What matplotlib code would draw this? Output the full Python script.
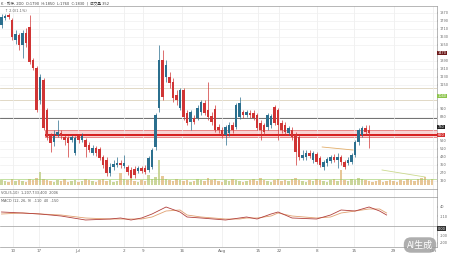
import numpy as np
import matplotlib.pyplot as plt
from matplotlib.patches import Rectangle

plt.rcParams['font.family'] = ['DejaVu Sans', 'Noto Sans CJK SC']

W, H = 450, 257

# candles (price units)
opens = [175, 182, 185, 180, 160, 165, 155, 167, 173, 140, 132, 100, 120, 90, 65, 58, 65, 67, 63, 62,
         60, 47, 64, 60, 60, 55, 47, 52, 51, 43, 40, 27, 33, 35, 37, 34, 33, 30, 31, 29,
         32, 32, 30, 33, 53, 92, 140, 123, 123, 118, 105, 92, 110, 87, 78, 82, 82, 88, 97, 90,
         84, 91, 73, 70, 65, 67, 75, 73, 83, 88, 85, 87, 87, 85, 77, 75, 73, 75, 93, 90,
         77, 75, 67, 70, 65, 63, 42, 43, 47, 40, 46, 42, 33, 37, 39, 43, 40, 43, 38, 37,
         38, 45, 58, 65, 72, 70]
closes = [183, 184, 183, 163, 166, 155, 167, 157, 138, 132, 90, 123, 72, 63, 57, 64, 68, 64, 60, 57,
          63, 62, 60, 64, 53, 50, 52, 47, 42, 35, 27, 33, 36, 37, 35, 37, 28, 22, 25, 32,
          29, 28, 42, 50, 85, 140, 103, 135, 117, 102, 100, 110, 83, 77, 88, 78, 92, 98, 87, 83,
          78, 70, 70, 65, 73, 75, 70, 95, 97, 85, 88, 85, 82, 72, 70, 68, 85, 84, 77, 75,
          70, 68, 72, 63, 48, 43, 45, 47, 44, 47, 38, 35, 38, 41, 43, 40, 43, 38, 33, 40,
          45, 58, 70, 72, 68, 67]
highs = [186, 186, 187, 182, 170, 167, 170, 172, 185, 142, 134, 126, 122, 92, 67, 70, 80, 70, 65, 64,
         65, 64, 66, 67, 62, 58, 55, 54, 53, 45, 43, 37, 40, 43, 40, 45, 35, 33, 34, 34,
         34, 35, 44, 52, 87, 155, 150, 140, 128, 122, 110, 112, 112, 90, 90, 85, 95, 100, 100, 118,
         88, 95, 76, 73, 75, 78, 78, 97, 103, 90, 90, 90, 90, 87, 80, 77, 87, 86, 95, 92,
         80, 78, 74, 73, 68, 65, 50, 50, 50, 49, 48, 44, 40, 43, 45, 46, 47, 45, 40, 43,
         47, 60, 72, 74, 75, 75]
lows = [172, 180, 181, 160, 156, 150, 142, 153, 136, 130, 88, 96, 70, 60, 48, 54, 63, 61, 55, 43,
        58, 45, 57, 58, 43, 48, 45, 44, 40, 32, 24, 24, 30, 33, 32, 32, 25, 20, 22, 27,
        27, 26, 28, 31, 50, 88, 100, 118, 112, 98, 95, 90, 80, 75, 70, 76, 80, 85, 85, 80,
        75, 68, 67, 62, 55, 64, 67, 71, 81, 82, 83, 82, 80, 70, 60, 65, 70, 72, 75, 60,
        67, 65, 65, 60, 35, 40, 40, 40, 42, 37, 36, 33, 30, 34, 37, 38, 32, 35, 31, 35,
        36, 43, 55, 63, 66, 52]
volume = [5, 4, 3, 6, 4, 5, 4, 3, 6, 5, 7, 13, 6, 5, 4, 3, 5, 4, 6, 3,
          4, 5, 3, 4, 6, 5, 4, 3, 5, 6, 4, 5, 3, 4, 12, 6, 5, 7, 4, 3,
          5, 4, 10, 6, 8, 25, 9, 6, 5, 4, 6, 5, 4, 5, 3, 4, 6, 5, 4, 7,
          5, 6, 4, 3, 5, 4, 6, 5, 4, 3, 4, 5, 6, 4, 7, 5, 4, 3, 5, 6,
          4, 5, 4, 6, 7, 5, 4, 3, 5, 4, 6, 5, 4, 3, 5, 6, 4, 15, 5, 4,
          6, 5, 7, 6, 5, 4, 3, 4, 5, 3, 4, 5, 4, 3, 5, 4, 6, 5, 4, 6,
          7, 8, 5, 6]

# indicator pane
ind_idx = [0, 6, 11, 17, 24, 31, 34, 37, 40, 43, 47, 51, 53, 57, 64, 68, 70, 73, 77, 79,
           83, 90, 94, 97, 101, 105, 108, 110]
ind_fast = [14, 13, 12, 10, 6, 7, 8, 6, 8, 12, 19, 14, 9, 8, 6, 8, 9, 7, 12, 14,
            8, 7, 11, 16, 15, 19, 15, 11]
ind_slow = [12, 13, 12, 11, 8, 7, 7, 7, 7, 9, 15, 16, 11, 9, 7, 7, 8, 8, 10, 13,
            10, 8, 9, 13, 15, 17, 17, 13]

xtick_pos = [3.3, 10.7, 21.9, 35, 40.4, 51.6, 63, 73.3, 79.3, 90, 100.7, 112, 123.3]
xtick_labels = ['10', '17', 'Jul', '2', '9', '16', 'Aug', '15', '22', '8', '15', '29', 'Oct']

# drawn levels
resist = 65.5
band_lo, band_hi = 63, 70
level_gray = 82
levels_tan = [100, 112]
trend_a = ([91.6, 100.4], [53, 50])
trend_b = ([108.7, 121], [30, 23])
axis_tags = [(147, '#6d1b1b'), (104, '#8bc34a'), (73, '#222222'), (65, '#d32f2f')]

UP, DOWN = '#2b6f8e', '#d03535'


def box(x0, y0, x1, y1):
    return [x0 / W, 1 - y1 / H, (x1 - x0) / W, (y1 - y0) / H]


def style(ax):
    ax.set_xlim(-0.43, 124.4)
    for s in ['left', 'bottom']:
        ax.spines[s].set_visible(False)
    for s in ['top', 'right']:
        ax.spines[s].set_color('#9a9a9a')
        ax.spines[s].set_linewidth(0.5)
    ax.yaxis.tick_right()
    ax.tick_params(axis='y', labelsize=2.5, colors='#666666', length=1, width=0.3, pad=0.8)
    ax.set_xticks(xtick_pos)
    ax.tick_params(axis='x', length=0, labelbottom=False)
    ax.grid(axis='x', color='#ececec', lw=0.5)


def main():
    fig = plt.figure(figsize=(4.5, 2.57), dpi=100)
    ax = fig.add_axes(box(0, 6, 437, 189))
    p2 = fig.add_axes(box(0, 189, 437, 197))
    ind = fig.add_axes(box(0, 197, 437, 226))
    p4 = fig.add_axes(box(0, 226, 437, 247))

    # volume (twin first, then restore right-side price ticks)
    vax = ax.twinx()
    vax.set_ylim(-4, 179)
    vax.set_axis_off()
    vax.set_xlim(-0.43, 124.4)

    for a in (ax, p2, ind, p4):
        style(a)

    # price pane
    ax.set_ylim(11, 194)
    tag_prices = [p for p, _ in axis_tags]
    ticks = [t for t in np.arange(19, 190, 8) if min(abs(t - p) for p in tag_prices) > 5]
    ax.set_yticks(ticks)
    ax.set_yticklabels([f'{t * 10:.0f}' for t in ticks])
    ax.tick_params(axis='y', left=False, labelleft=False, right=True, labelright=True)
    ax.grid(axis='y', color='#f0f0f0', lw=0.5)

    ax.add_patch(Rectangle((12.4, band_lo), 124.4 - 12.4, band_hi - band_lo,
                           fc='#f9d4d4', ec='#e06060', lw=0.5, zorder=1))
    ax.hlines(resist, 12.4, 124.4, color='#d61f1f', lw=1.4, zorder=2)
    ax.axhline(level_gray, color='#5a5a5a', lw=0.6, zorder=1)
    for lv in levels_tan:
        ax.axhline(lv, color='#dcd2bc', lw=0.6, zorder=1)
    ax.plot(*trend_a, color='#e2ae6a', lw=0.6)
    ax.plot(*trend_b, color='#cbd98f', lw=0.6)

    x = np.arange(len(opens))
    o, c = np.array(opens), np.array(closes)
    cols = [UP if cc >= oo else DOWN for oo, cc in zip(o, c)]
    ax.vlines(x, lows, highs, colors=cols, lw=0.5, zorder=3)
    body = np.maximum(np.abs(c - o), 0.8)
    ax.bar(x, body, bottom=np.minimum(o, c), width=0.72, color=cols, lw=0, zorder=4)

    for price, col in axis_tags:
        ax.text(1.002, price, f'{price * 10:.0f}', transform=ax.get_yaxis_transform(),
                fontsize=2.5, color='white', va='center', ha='left',
                bbox=dict(fc=col, ec='none', pad=0.3), clip_on=False, zorder=6)

    vx = np.arange(len(volume))
    vcols = []
    for i in vx:
        if i < len(opens):
            vcols.append('#c2cf8a' if closes[i] >= opens[i] else '#e3bd86')
        else:
            vcols.append('#e3bd86')
    vax.bar(vx, volume, width=0.7, color=vcols, alpha=0.85, lw=0)
    vax.axhline(6, color='#9ccc65', lw=0.6, alpha=0.7)

    # small pane
    p2.set_ylim(0, 1)
    p2.set_yticks([])
    p2.text(0.002, 0.5, 'VOL(5,10)  1,207,733.400  2006', transform=p2.transAxes,
            fontsize=2.5, color='#555555', va='center')

    # indicator pane
    ind.set_ylim(0, 29)
    ind.set_yticks([10, 19])
    ind.set_yticklabels(['-110', '40'])
    ind.plot(ind_idx, ind_slow, color='#e0a070', lw=0.6)
    ind.plot(ind_idx, ind_fast, color='#b2403c', lw=0.6)
    ind.text(0.002, 0.86, 'MACD (12, 26, 9)  -110  40  -150', transform=ind.transAxes,
             fontsize=2.5, color='#555555', va='center')

    # bottom pane + time axis
    p4.set_ylim(0, 1)
    p4.set_yticks([0.2, 0.55])
    p4.set_yticklabels(['-200', '-100'])
    p4.spines['bottom'].set_visible(True)
    p4.spines['bottom'].set_color('#9a9a9a')
    p4.spines['bottom'].set_linewidth(0.5)
    p4.set_xticklabels(xtick_labels)
    p4.tick_params(axis='x', labelbottom=True, labelsize=3, colors='#666666', pad=1.5)
    p4.text(1.002, 0.88, '0.00', transform=p4.transAxes, fontsize=2.5, color='white',
            va='center', bbox=dict(fc='#333333', ec='none', pad=0.3), clip_on=False)

    fig.text(0.003, 1 - 3 / H, 'K · 币种, 2D0  O:1790  H:1850  L:1760  C:1830  |  成交量 352',
             fontsize=2.6, color='#444444', va='center')
    fig.text(0.012, 1 - 11 / H, '↑ 2.0(1.1%)', fontsize=2.6, color='#666666', va='center')

    fig.text(420 / W, 1 - 245 / H, 'AI生成', fontsize=6.5, color='white', ha='center', va='center',
             family=['Noto Sans CJK SC', 'DejaVu Sans'],
             bbox=dict(boxstyle='round,pad=0.35,rounding_size=0.8', fc='#9a9a9a', ec='none', alpha=0.8))

    fig.savefig('out.png', dpi=100)


if __name__ == "__main__":
    main()
